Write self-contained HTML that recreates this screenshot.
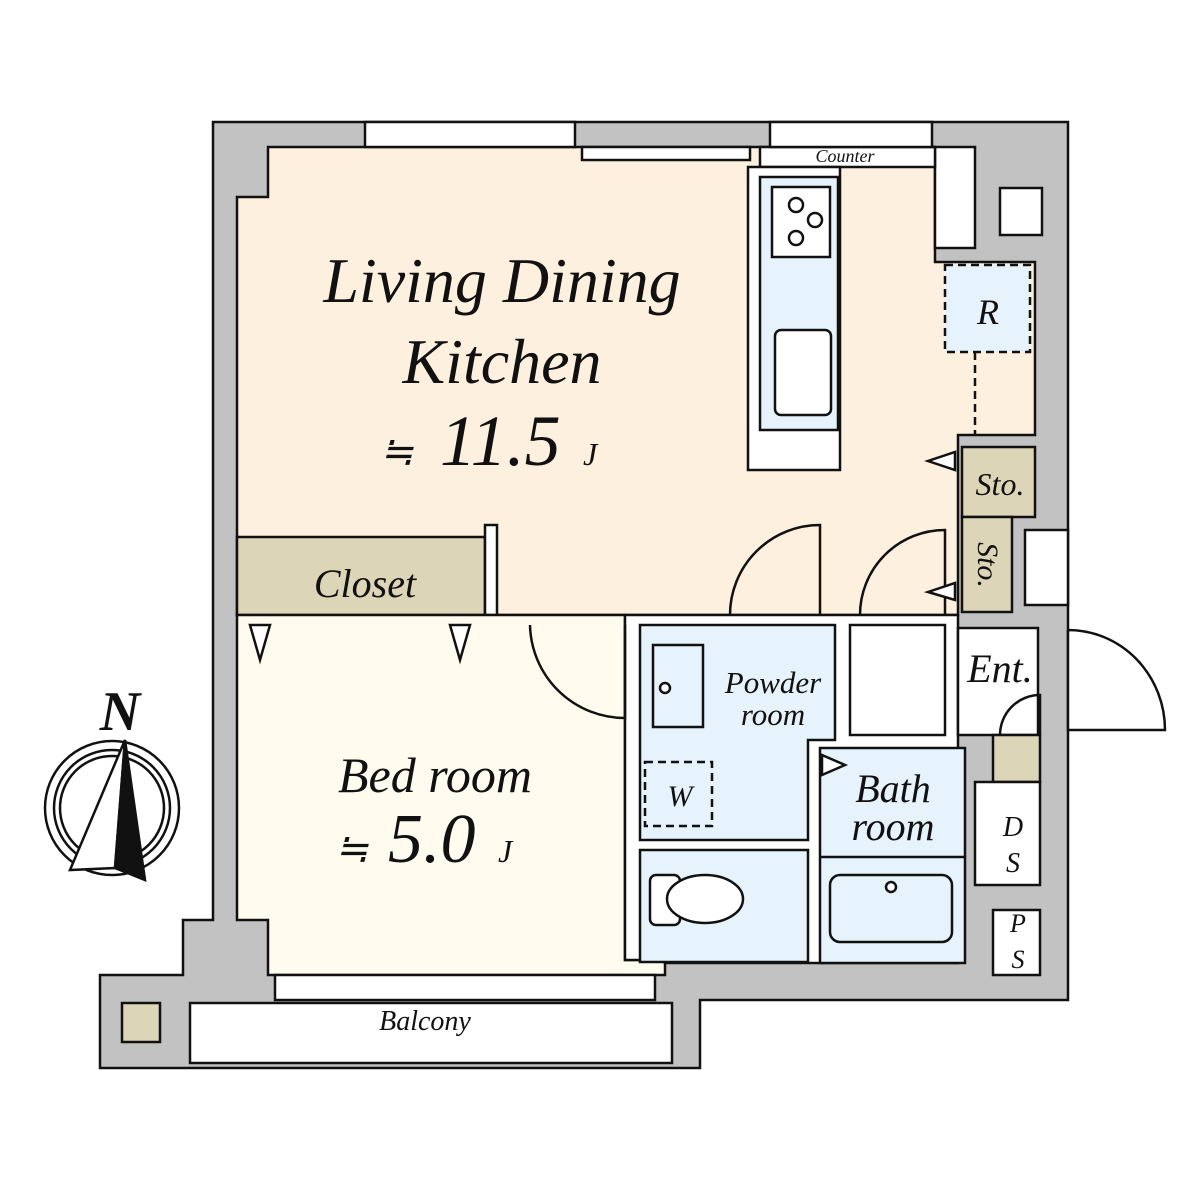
<!DOCTYPE html>
<html><head><meta charset="utf-8"><style>body{margin:0;background:#fff}svg{display:block}text{font-family:"Liberation Serif",serif;font-style:italic;fill:#111}</style></head><body>
<svg width="1200" height="1200" viewBox="0 0 1200 1200" xmlns="http://www.w3.org/2000/svg">
<g stroke="#111" stroke-width="2.5">
<polygon points="213,122 1068,122 1068,1000 700,1000 700,1068 100,1068 100,975 183,975 183,920 213,920" fill="#c2c2c2"/>
<polygon points="268,147 935,147 935,262 1035,262 1035,435 958,435 958,615 237,615 237,197 268,197" fill="#fdf0de"/>
<rect x="237" y="537" width="248" height="78" fill="#ddd5b8"/>
<rect x="485" y="525" width="12" height="90" fill="#fff"/>
<polygon points="237,615 625,615 625,960 665,960 665,975 268,975 268,920 237,920" fill="#fffbee"/>
<polygon points="625,615 958,615 958,963 665,963 665,960 625,960" fill="#fff"/>
<polygon points="640,625 835,625 835,740 808,740 808,840 640,840" fill="#e6f3fc"/>
<rect x="640" y="850" width="168" height="112" fill="#e6f3fc"/>
<rect x="820" y="748" width="145" height="215" fill="#e6f3fc"/>
<line x1="820" y1="857" x2="965" y2="857"/>
<rect x="653" y="645" width="50" height="82" fill="#e6f3fc"/>
<circle cx="665" cy="688" r="5" fill="#fff"/>
<rect x="645" y="762" width="67" height="64" fill="none" stroke-dasharray="8,5"/>
<rect x="830" y="875" width="122" height="67" rx="10" fill="#e6f3fc"/>
<circle cx="891" cy="887" r="5" fill="#fff"/>
<rect x="650" y="875" width="30" height="50" rx="6" fill="#fff"/>
<ellipse cx="705" cy="899" rx="38" ry="24" fill="#fff"/>
<rect x="850" y="625" width="95" height="110" fill="#fff"/>
<rect x="958" y="628" width="80" height="107" fill="#fff"/>
<rect x="993" y="735" width="47" height="47" fill="#ddd5b8"/>
<rect x="975" y="782" width="65" height="103" fill="#fff"/>
<rect x="993" y="910" width="47" height="65" fill="#fff"/>
<path d="M1000,735 A40,40 0 0 1 1040,695 L1040,735" fill="none"/>
<path d="M1068,630 L1068,730 L1165,730 A97,100 0 0 0 1068,630" fill="#fff"/>
<rect x="1025" y="530" width="43" height="75" fill="#fff"/>
<rect x="962" y="447" width="73" height="70" fill="#ddd5b8"/>
<rect x="962" y="517" width="50" height="95" fill="#ddd5b8"/>
<rect x="935" y="147" width="40" height="101" fill="#fff"/>
<rect x="1000" y="188" width="42" height="47" fill="#fff"/>
<rect x="945" y="265" width="85" height="87" fill="#e6f3fc" stroke-dasharray="8,5"/>
<line x1="975" y1="352" x2="975" y2="435" stroke-dasharray="8,5"/>
<rect x="760" y="147" width="175" height="20" fill="#fff"/>
<rect x="748" y="167" width="92" height="303" fill="#fff"/>
<rect x="760" y="177" width="78" height="253" fill="#e6f3fc"/>
<rect x="772" y="187" width="58" height="70" fill="#fff"/>
<circle cx="796" cy="205" r="7" fill="#fff"/><circle cx="815" cy="220" r="7" fill="#fff"/><circle cx="796" cy="238" r="7" fill="#fff"/>
<rect x="775" y="330" width="56" height="85" rx="6" fill="#fff"/>
<rect x="582" y="147" width="168" height="13" fill="#fff"/>
<rect x="365" y="122" width="210" height="25" fill="#fff"/>
<rect x="770" y="122" width="162" height="25" fill="#fff"/>
<rect x="275" y="975" width="380" height="25" fill="#fff"/>
<rect x="190" y="1003" width="482" height="60" fill="#fff"/>
<rect x="122" y="1003" width="38" height="39" fill="#ddd5b8"/>
<path d="M530,625 A95,95 0 0 0 625,718 L625,625" fill="none"/>
<path d="M730,615 A90,90 0 0 1 820,525 L820,615" fill="none"/>
<path d="M860,615 A85,85 0 0 1 945,530 L945,615" fill="none"/>
<polygon points="250,625 270,625 260,660" fill="#fff"/>
<polygon points="450,625 470,625 460,660" fill="#fff"/>
<polygon points="955,452 955,470 928,461" fill="#fff"/>
<polygon points="955,583 955,600 928,592" fill="#fff"/>
<polygon points="822,755 822,775 845,765" fill="#fff"/>
<circle cx="112" cy="808" r="67" fill="#fff"/>
<circle cx="112" cy="808" r="58" fill="#fff"/>
<circle cx="112" cy="808" r="52" fill="#fff"/>
<polygon points="125,740 70,870 115,868" fill="#fff"/>
<polygon points="125,740 115,868 145,880" fill="#111"/>
</g>
<text x="502" y="302" font-size="64" text-anchor="middle">Living Dining</text>
<text x="502" y="383" font-size="64" text-anchor="middle">Kitchen</text>
<text x="380" y="465" font-size="40">≒</text><text x="440" y="465" font-size="72">11.5</text><text x="583" y="465" font-size="32">J</text>
<text x="365" y="597" font-size="40" text-anchor="middle">Closet</text>
<text x="435" y="792" font-size="50" text-anchor="middle">Bed room</text>
<text x="335" y="862" font-size="40">≒</text><text x="388" y="862" font-size="70">5.0</text><text x="498" y="862" font-size="32">J</text>
<text x="773" y="693" font-size="31" text-anchor="middle">Powder</text>
<text x="773" y="725" font-size="31" text-anchor="middle">room</text>
<text x="680" y="806" font-size="30" text-anchor="middle">W</text>
<text x="893" y="802" font-size="40" text-anchor="middle">Bath</text>
<text x="893" y="840" font-size="40" text-anchor="middle">room</text>
<text x="1000" y="682" font-size="40" text-anchor="middle">Ent.</text>
<text x="1013" y="836" font-size="28" text-anchor="middle">D</text>
<text x="1013" y="872" font-size="28" text-anchor="middle">S</text>
<text x="1018" y="932" font-size="26" text-anchor="middle">P</text>
<text x="1018" y="968" font-size="26" text-anchor="middle">S</text>
<text x="988" y="324" font-size="36" text-anchor="middle">R</text>
<text x="1000" y="495" font-size="32" text-anchor="middle">Sto.</text>
<text transform="translate(978,565) rotate(90)" font-size="30" text-anchor="middle">Sto.</text>
<text x="845" y="162" font-size="18" text-anchor="middle">Counter</text>
<text x="425" y="1030" font-size="28" text-anchor="middle">Balcony</text>
<text x="120" y="730" font-size="56" font-weight="bold" font-style="normal" text-anchor="middle">N</text>
</svg>
</body></html>
